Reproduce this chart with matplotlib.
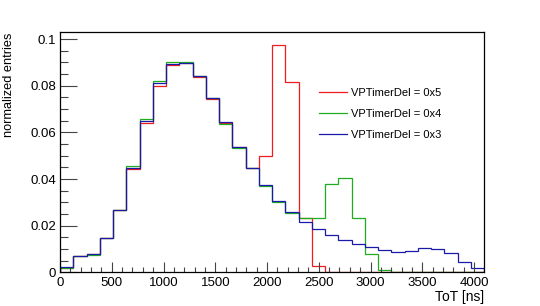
import numpy as np
import matplotlib
matplotlib.use("Agg")
import matplotlib.pyplot as plt
from matplotlib.ticker import MultipleLocator, FuncFormatter

plt.rcParams['font.family'] = ['Liberation Sans', 'DejaVu Sans']

# bin edges: 32 bins of 128 ns from 0 to 4096 ns
bin_width = 128
n_bins = 32

labels = ["VPTimerDel = 0x5", "VPTimerDel = 0x4", "VPTimerDel = 0x3"]

red_vals = [0.0019, 0.0069, 0.0079, 0.0145, 0.0266, 0.0443, 0.0641, 0.0800,
            0.0887, 0.0896, 0.0837, 0.0744, 0.0642, 0.0538, 0.0447, 0.0500,
            0.0976, 0.0815, 0.0234, 0.0028, 0.0, 0.0, 0.0, 0.0,
            0.0, 0.0, 0.0, 0.0, 0.0, 0.0, 0.0, 0.0]
green_vals = [0.0017, 0.0068, 0.0075, 0.0146, 0.0268, 0.0456, 0.0657, 0.0821,
              0.0903, 0.0903, 0.0841, 0.0747, 0.0637, 0.0533, 0.0447, 0.0369,
              0.0303, 0.0253, 0.0234, 0.0234, 0.0380, 0.0403, 0.0234, 0.0077,
              0.0011, 0.0002, 0.0, 0.0, 0.0, 0.0, 0.0, 0.0]
blue_vals = [0.0023, 0.0071, 0.0077, 0.0145, 0.0267, 0.0447, 0.0650, 0.0810,
             0.0894, 0.0899, 0.0841, 0.0746, 0.0643, 0.0538, 0.0449, 0.0373,
             0.0306, 0.0257, 0.0217, 0.0184, 0.0160, 0.0140, 0.0122, 0.0108,
             0.0097, 0.0087, 0.0093, 0.0105, 0.0102, 0.0081, 0.0045, 0.0018]

colors = ['#ee1c1c', '#1fad1f', '#1a1aa8']

edges = np.arange(n_bins + 1) * bin_width

fig = plt.figure(figsize=(5.4, 3.06), dpi=100)
ax = fig.add_axes([60/540, 1-272.3/306, (484-60)/540, (272.3-32.3)/306])

for vals, c, lab in zip([red_vals, green_vals, blue_vals], colors, labels):
    ax.stairs(vals, edges, baseline=0, color=c, lw=0.9, label=lab)

ax.set_xlim(0, 4096)
ax.set_ylim(0, 0.1029)

ax.xaxis.set_major_locator(MultipleLocator(500))
ax.xaxis.set_minor_locator(MultipleLocator(100))
ax.yaxis.set_major_locator(MultipleLocator(0.02))
ax.yaxis.set_minor_locator(MultipleLocator(0.005))
ax.yaxis.set_major_formatter(FuncFormatter(lambda v, p: '%g' % round(v, 4)))

ax.tick_params(axis='both', which='both', direction='in', top=False, right=False,
               labelsize=9.5, color='#444444', width=0.8)
ax.tick_params(axis='y', which='major', length=12, pad=3)
ax.tick_params(axis='y', which='minor', length=6)
ax.tick_params(axis='x', which='major', length=7, pad=3.5)
ax.tick_params(axis='x', which='minor', length=3.5)

for s in ax.spines.values():
    s.set_linewidth(0.9)
    s.set_color('black')

fig.text(484/540, 1-304/306, "ToT [ns]", ha='right', va='bottom', fontsize=10)
fig.text(3/540, 1-33/306, "normalized entries", ha='left', va='top', rotation=90, fontsize=9.2)

leg = ax.legend(loc='upper left', bbox_to_anchor=(319/540, 1-88/306), bbox_transform=fig.transFigure,
                frameon=False, fontsize=8, handlelength=2.5, handletextpad=0.42,
                labelspacing=1.0, borderaxespad=0, borderpad=0)

fig.savefig("out.png", dpi=100)
